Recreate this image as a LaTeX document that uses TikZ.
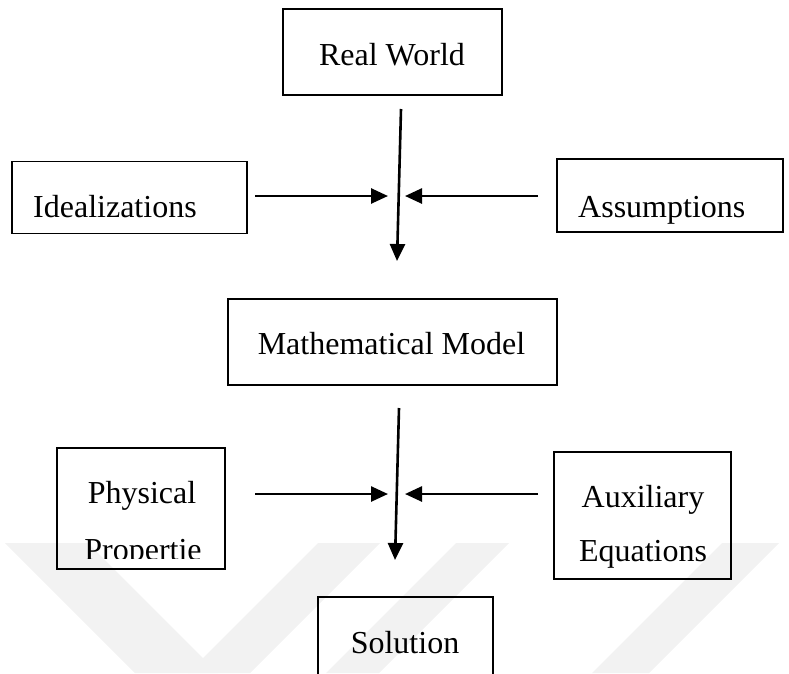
\documentclass[tikz,border=0pt]{standalone}
\usepackage{fontspec}
\setmainfont{Liberation Serif}
\usetikzlibrary{arrows.meta}
\tikzset{
  box/.style={draw=black, line width=1.8pt, rectangle, inner sep=0pt},
  txt/.style={inner sep=0pt, font=\fontsize{32}{38}\selectfont, anchor=base},
  flow/.style={line width=2.6pt, -{Triangle[length=17pt,width=15pt]}},
  wm/.style={fill=black!5, draw=none}
}
\begin{document}
\begin{tikzpicture}[x=1pt,y=-1pt]
\useasboundingbox (0,0) rectangle (789,673);
% faint watermark bands
\fill[wm] (5,543) -- (88,543) -- (218,673) -- (135,673) -- cycle;
\fill[wm] (318,543) -- (380,543) -- (250,673) -- (188,673) -- cycle;
\fill[wm] (456,543) -- (509,543) -- (379,673) -- (326,673) -- cycle;
\fill[wm] (722,543) -- (779,543) -- (649,673) -- (592,673) -- cycle;

% boxes
\node[box, minimum width=219pt, minimum height=86pt] (real) at (392.5,52) {};
\node[box, minimum width=235pt, minimum height=72pt] (ideal) at (129.5,197.5) {};
\node[box, minimum width=226pt, minimum height=73pt] (assum) at (670,195.5) {};
\node[box, minimum width=329pt, minimum height=86pt] (model) at (392.5,342) {};
\node[box, minimum width=168pt, minimum height=121pt] (phys) at (141,508.5) {};
\node[box, minimum width=177pt, minimum height=127pt] (aux) at (642.5,515.5) {};
\node[box, minimum width=175pt, minimum height=110pt] (sol) at (405.5,652) {};

% texts
\node[txt] (realt) at (392,65) {Real World};
\node[txt, anchor=base west] (idealt) at (33,217) {Idealizations};
\node[txt, anchor=base west] (assumt) at (578,217) {Assumptions};
\node[txt] (modelt) at (391.5,354) {Mathematical Model};
\node[txt] (physt1) at (142,503) {Physical};
\begin{scope}
  \clip (57,448) rectangle (225,558);
  \node[txt] (physt2) at (143,560.5) {Propertie};
\end{scope}
\node[txt] (auxt1) at (643,507) {Auxiliary};
\node[txt] (auxt2) at (643,561) {Equations};
\node[txt] (solt) at (405,653) {Solution};

% connector end points
\coordinate (v1s) at (401,109);
\coordinate (v1e) at (397,261);
\coordinate (l1s) at (255,196);
\coordinate (l1e) at (388,196);
\coordinate (r1s) at (538,196);
\coordinate (r1e) at (405,196);
\coordinate (v2s) at (399,408);
\coordinate (v2e) at (395,560);
\coordinate (l2s) at (255,494);
\coordinate (l2e) at (388,494);
\coordinate (r2s) at (538,494);
\coordinate (r2e) at (405,494);

\draw[flow] (v1s) -- (v1e);
\draw[flow] (l1s) -- (l1e);
\draw[flow] (r1s) -- (r1e);
\draw[flow] (v2s) -- (v2e);
\draw[flow] (l2s) -- (l2e);
\draw[flow] (r2s) -- (r2e);
\end{tikzpicture}
\end{document}
